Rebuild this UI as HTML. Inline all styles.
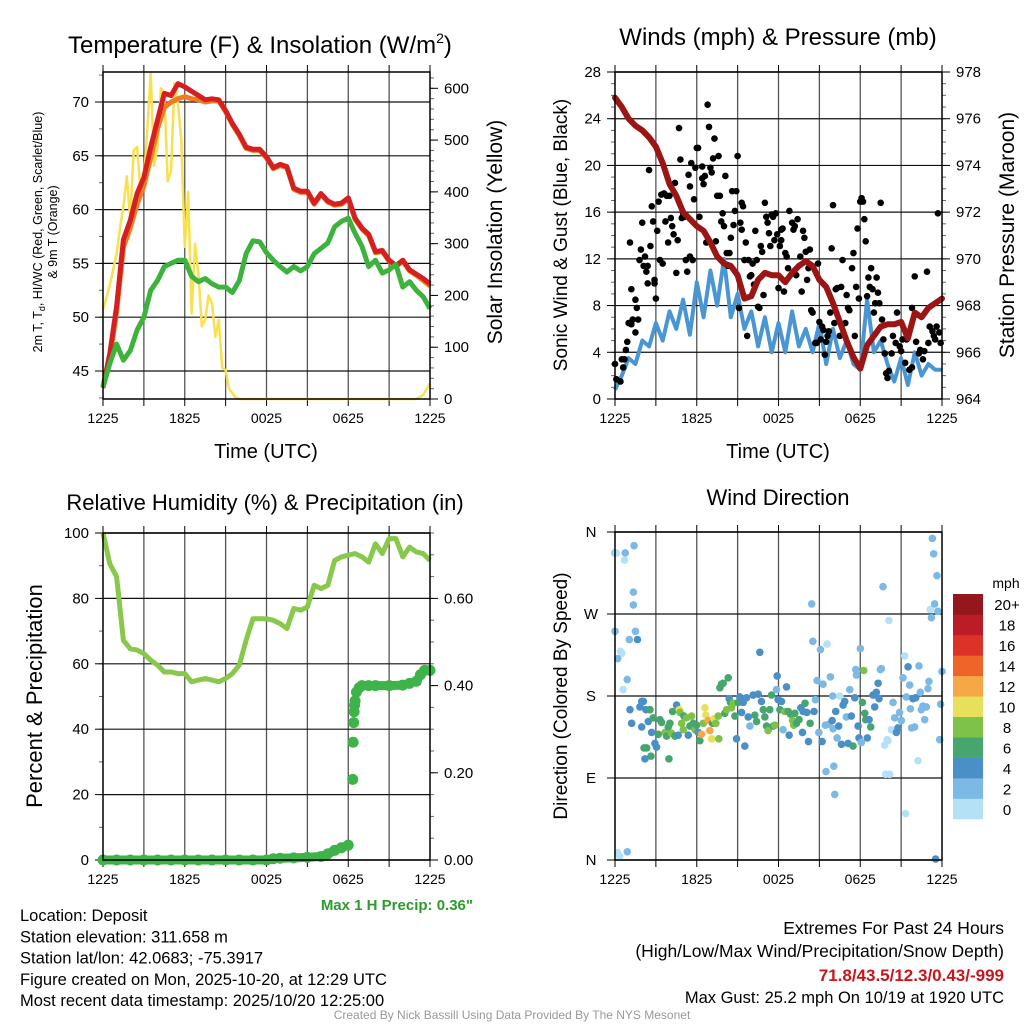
<!DOCTYPE html>
<html><head><meta charset="utf-8"><style>
html,body{margin:0;padding:0;background:#fff;}
svg{display:block;font-family:"Liberation Sans",sans-serif;}
.nar{font-family:"Liberation Sans Narrow","Liberation Sans",sans-serif;}
</style></head><body>
<svg id="root" width="1024" height="1024" viewBox="0 0 1024 1024" xmlns="http://www.w3.org/2000/svg"></svg>
<script>
// ---------- DATA ----------
const timeLabels = ["1225","1825","0025","0625","1225"];
const halfHours = [0,0.5,1,1.5,2,2.5,3,3.5,4,4.5,5,5.5,6,6.5,7,7.5,8,8.5,9,9.5,10,10.5,11,11.5,12,12.5,13,13.5,14,14.5,15,15.5,16,16.5,17,17.5,18,18.5,19,19.5,20,20.5,21,21.5,22,22.5,23,23.5,24];
const tempF = [43.5,46.6,51,57.2,59,61.5,63,65.8,68.3,70.8,70.6,71.7,71.4,71,70.6,70.2,70.3,70.2,69.2,68,67,65.8,65.6,65.6,64.9,63.9,64.2,64,62,61.7,61.7,60.6,61.5,60.8,60.5,60.6,61.1,59.2,58.3,57.7,56.1,56.2,55.3,54.8,55.3,54.4,54,53.6,53.1];
const temp9mF = [43.4,46.2,50.5,56.5,58.3,60.5,62.2,64.8,67.5,69.5,70,70.3,70.5,70.3,70.2,70,70.1,70.1,69.1,67.9,66.9,65.7,65.5,65.5,64.8,63.8,64.1,63.9,61.9,61.6,61.6,60.5,61.4,60.7,60.4,60.5,61,59.1,58.2,57.6,56,56.1,55.2,54.7,55.2,54.3,53.9,53.4,52.9];
const dewF = [43.5,45.7,47.5,46,46.9,48.8,50,52.5,53.4,54.7,55,55.3,55.3,53.8,53.3,53.6,53.1,52.8,52.8,52.3,53.4,55.9,57.1,57,56,55.3,54.7,54.2,54.7,54.3,54.7,55.9,56.4,56.9,58.4,58.9,59.2,57.8,56.6,54.7,55.3,54.1,54.4,54.9,52.8,53.3,52.5,51.9,50.8];
const solarH = [0,0.25,0.5,0.75,1,1.25,1.5,1.75,2,2.25,2.5,2.75,3,3.25,3.5,3.75,4,4.25,4.5,4.75,5,5.25,5.5,5.75,6,6.25,6.5,6.75,7,7.25,7.5,7.75,8,8.25,8.5,8.75,9,9.25,9.5,9.75,10,23,23.5,24];
const solarW = [172,195,220,250,281,330,372,430,346,480,487,400,423,520,629,450,487,600,590,420,442,610,571,500,294,400,165,300,243,140,153,200,185,120,153,60,56,20,11,3,0,0,8,30];
const windMph = [0.8,2,3.5,3,5,4.5,6.5,5,7.5,6,8.5,5.5,10,7,11,8,12,7,9,6,7.5,4.5,7,4,6.5,4,7.5,4.5,6,4,6.5,3,6,3.5,5,3,2.5,8.5,4,5,3,1.5,3.5,1.2,4,2,3,2.5,2.5];
const pressMb = [976.9,976.5,976.0,975.7,975.5,975.2,974.8,974.1,973.2,972.7,972.0,971.7,971.4,971.2,970.7,970.1,969.8,969.7,969.3,968.3,968.4,969.1,969.4,969.3,969.3,969.0,969.4,969.7,969.9,969.7,969.1,968.8,968.1,967.3,966.5,965.8,965.3,966.3,966.7,967.1,967.2,967.2,967.3,966.6,967.7,967.5,967.9,968.1,968.3];
const gustH = [0,0.1,0.4,0.5,0.6,0.7,0.8,0.9,1.0,1.1,1.2,1.2,1.3,1.5,1.5,1.6,1.7,1.8,1.9,2.0,2.1,2.2,2.3,2.4,2.4,2.5,2.6,2.7,2.8,2.9,2.9,3.0,3.1,3.2,3.3,3.4,3.5,3.6,3.7,3.8,3.9,4.0,4.1,4.2,4.3,4.4,4.5,4.6,4.7,4.8,4.9,5.0,5.1,5.2,5.3,5.4,5.5,5.5,5.6,5.7,5.8,5.9,6.0,6.1,6.2,6.4,6.4,6.5,6.6,6.7,6.8,6.9,7.0,7.1,7.2,7.3,7.4,7.5,7.6,7.7,7.8,7.9,8.0,8.1,8.2,8.3,8.4,8.5,8.6,8.7,8.8,8.9,9.0,9.1,9.2,9.3,9.3,9.4,9.5,9.6,9.7,9.8,9.9,10.0,10.1,10.2,10.3,10.4,10.5,10.6,10.7,10.8,10.9,11.0,11.1,11.2,11.3,11.4,11.5,11.6,11.7,11.8,11.9,12.0,12.1,12.2,12.2,12.3,12.4,12.5,12.6,12.7,12.8,13.0,13.1,13.2,13.3,13.4,13.6,13.7,13.8,13.9,14.0,14.1,14.2,14.3,14.4,14.5,14.7,14.8,14.9,15.0,15.1,15.2,15.3,15.4,15.5,15.6,15.7,15.8,15.9,16.0,16.1,16.2,16.3,16.5,16.6,16.7,16.9,17.0,17.1,17.2,17.4,17.5,17.6,17.7,17.8,17.9,18.0,18.1,18.2,18.3,18.4,18.5,18.6,18.7,18.8,18.9,19.0,19.1,19.2,19.3,19.4,19.5,19.6,19.7,19.8,19.9,20.0,20.1,20.3,20.4,20.6,20.7,20.9,21.0,21.1,21.3,21.4,21.6,21.8,21.8,22.0,22.1,22.3,22.4,22.6,22.7,22.9,23.0,23.1,23.3,23.4,23.5,23.6,23.7,23.8,23.9];
const gustV = [3.0,1.7,1.5,3.4,2.7,3.4,4.2,4.9,6.5,13.4,9.4,6.4,6.8,5.7,8.5,7.8,6.8,11.9,12.8,15.1,11.4,12.2,10.9,11.4,9.9,19.6,13.1,16.5,15.2,10.2,9.9,8.6,14.4,16.9,11.9,17.5,11.6,17.6,15.2,17.4,13.4,17.4,15.5,14.8,14.1,18.5,10.8,13.6,23.2,20.5,15.5,15.9,15.6,11.9,10.9,19.2,18.2,12.2,20.2,11.9,17.1,19.8,21.5,21.5,15.6,19.9,18.9,18.4,19.1,13.4,25.2,23.3,19.8,19.4,20.6,22.3,13.5,17.4,20.8,17.4,15.2,15.9,14.8,19.1,12.5,11.4,12.5,13.8,17.8,14.9,16.1,17.8,20.8,7.8,15.1,14.5,16.8,16.5,11.9,13.4,5.4,11.9,10.5,10.6,11.6,9.8,14.4,11.9,7.9,7.8,13.1,12.6,8.9,16.8,15.6,15.1,14.2,13.1,15.8,15.6,13.6,15.9,14.1,9.5,13.1,14.5,13.6,14.6,9.2,12.5,12.2,11.2,16.1,15.1,14.5,14.8,10.6,15.4,12.2,9.2,14.4,13.8,12.6,10.2,11.2,12.8,7.6,7.4,4.8,4.8,11.6,6.6,5.1,6.2,5.9,3.8,4.9,5.4,5.8,7.4,12.9,16.6,6.5,9.4,9.5,5.4,9.6,11.9,6.5,8.9,7.8,7.6,11.2,12.5,5.4,9.6,14.6,8.6,16.9,17.2,16.9,15.4,13.5,8.8,10.4,9.6,11.2,9.4,7.4,8.2,10.4,9.1,8.2,16.8,6.8,5.1,3.9,2.2,1.8,2.4,3.9,5.4,4.8,7.4,4.5,4.1,5.1,3.1,5.1,2.5,7.8,2.7,10.5,4.9,3.9,4.2,3.4,4.1,10.9,4.8,6.2,5.8,5.4,5.1,6.2,15.9,5.7,4.8];
const rhPct = [100,90.6,86.6,67.2,64.6,64.2,63.1,61.1,59.6,57.5,57.5,57,57,54.5,55,55.5,55,54.5,55.5,57,59.6,67.2,73.8,73.8,73.8,73.3,72.3,70.8,76.9,76.4,77.4,84,83,84,91.6,92.7,93.2,93.7,92.7,91.1,96.7,93.7,98.3,98.3,92.7,95.7,94.2,93.7,91.6];
const precipH = [0,1,2,3,4,5,6,7,8,9,10,11,12,12.5,13,14,15,16,16.5,17,17.5,18,18.33,18.36,18.4,18.43,18.46,18.5,18.6,18.8,19,19.5,20,21,22,22.5,23,23.3,23.6,24];
const precipIn = [0,0,0,0,0,0,0,0,0,0,0,0,0,0.003,0.004,0.005,0.006,0.008,0.014,0.022,0.028,0.034,0.185,0.27,0.315,0.34,0.355,0.365,0.385,0.395,0.4,0.4,0.4,0.4,0.401,0.405,0.41,0.425,0.435,0.435];
const wdH = [0.0,0.1,0.75,0.7,1.4,1.35,1.35,0.0,1.5,1.05,1.65,0.4,0.5,0.2,0.9,0.6,0.2,0.35,0.9,1.10,1.22,1.83,1.96,1.96,2.08,2.27,2.44,2.57,2.69,2.81,2.93,3.05,2.13,2.32,2.64,2.20,3.18,3.30,3.42,3.67,3.79,3.91,3.96,4.03,4.15,4.23,4.40,4.52,4.64,4.72,4.77,4.89,5.01,5.06,5.25,5.38,5.50,5.62,5.74,5.87,5.99,6.11,6.23,6.35,6.48,6.60,6.67,6.84,6.96,7.09,7.16,7.26,7.40,7.58,7.62,7.70,7.82,7.94,8.06,8.19,8.31,8.38,8.48,8.55,8.68,8.80,8.92,9.04,9.16,9.29,9.41,9.53,9.65,9.78,9.90,10.14,10.26,10.39,10.51,10.63,10.75,10.88,11.00,11.12,11.24,11.36,11.49,11.61,11.73,11.85,11.90,11.97,12.10,12.22,12.34,12.46,12.59,12.71,12.78,12.88,13.03,13.12,13.20,13.32,13.51,13.64,13.76,13.81,13.95,14.08,14.20,14.32,14.44,14.52,14.61,14.71,14.83,14.96,15.08,15.20,15.27,15.44,15.49,15.57,15.69,15.81,15.94,15.98,16.01,16.06,16.13,16.20,16.30,16.42,16.50,16.62,16.74,16.86,16.98,17.11,17.23,17.35,17.47,17.60,17.67,17.72,17.84,17.91,18.01,18.08,18.16,18.26,18.33,18.40,18.52,18.65,18.77,18.94,19.06,19.18,19.31,19.38,19.48,19.55,19.67,19.79,19.87,19.97,20.04,20.11,20.16,20.28,20.41,20.53,20.65,20.77,20.89,21.02,21.14,21.26,21.33,21.38,21.51,21.63,21.68,21.77,21.87,21.99,22.07,22.24,22.31,22.41,22.48,22.60,22.73,22.85,22.97,23.04,23.14,23.22,23.29,23.39,23.46,23.53,23.63,23.70,23.83,23.90,24.0];
const wdDir = [337,337,337,329,345,294,280,251,251,242,242,229,227,221,198,187,8,4,9,165,150,168,174,146,174,165,152,165,140,156,128,124,123,123,114,111,138,154,151,140,136,146,111,150,139,163,136,170,137,165,162,150,143,158,156,137,147,158,150,143,148,140,131,138,150,167,159,153,142,133,150,155,150,158,133,189,193,194,161,165,200,177,173,167,172,158,133,173,179,162,173,125,178,157,147,181,159,152,182,228,174,165,157,147,142,165,181,147,148,187,202,176,165,174,143,163,190,163,137,160,153,148,161,150,154,167,140,163,172,162,130,150,281,240,163,176,197,140,231,130,193,148,97,237,149,201,153,180,144,103,72,163,134,147,180,127,170,174,157,128,187,158,125,178,209,203,147,134,232,129,173,208,161,154,134,154,146,181,168,184,194,177,209,210,300,126,94,132,131,263,94,143,173,156,140,145,162,153,200,224,51,179,212,192,166,145,177,146,178,109,213,184,165,169,154,168,188,196,275,266,353,336,281,1,312,273,132,171,207];
const wdSpd = [2,0,2,0,2,2,2,2,2,2,4,0,0,2,2,0,0,0,2,4,4,4,4,4,4,4,4,6,4,6,4,4,6,6,6,4,6,6,6,8,6,6,6,6,8,6,6,4,4,10,8,8,8,6,8,4,6,8,6,8,6,4,6,12,8,10,10,12,12,10,6,10,8,8,8,6,6,6,6,8,6,4,6,8,8,6,4,6,4,4,4,4,4,4,2,4,6,6,4,4,4,6,6,6,8,6,6,6,8,2,4,4,6,4,2,8,4,6,4,6,8,8,6,6,6,4,4,4,6,4,4,6,2,2,4,2,2,2,2,4,2,2,2,0,2,2,4,2,2,2,2,4,2,4,0,4,4,4,2,4,2,4,6,4,2,2,4,4,2,2,6,8,6,6,4,4,6,4,4,4,4,4,2,2,2,0,0,0,0,0,0,0,2,2,4,4,2,2,2,0,0,2,4,2,2,2,4,2,4,0,2,2,2,2,2,2,2,2,0,2,2,2,2,4,2,2,2,2,2];
const speedBinLabels = ["0","2","4","6","8","10","12","14","16","18","20+"];
const speedBinColors = ["#b5e1f7","#7cb9e4","#4a8fc6","#47a56e","#7ec24a","#e6e05a","#f6a847","#ef6428","#dc3328","#bc1c25","#94171b"];

// ---------- RENDER ----------
const NS = "http://www.w3.org/2000/svg";
const root = document.getElementById('root');
function mk(tag, attrs, parent){
  const el = document.createElementNS(NS, tag);
  for (const k in attrs) el.setAttribute(k, attrs[k]);
  (parent || root).appendChild(el);
  return el;
}
function txt(s, attrs, parent){
  const el = mk('text', attrs, parent);
  el.textContent = s;
  return el;
}
function linScale(d0, d1, r0, r1){ return v => r0 + (v - d0) / (d1 - d0) * (r1 - r0); }

function frame(p, name){
  const g = mk('g', {});
  
  
  const xs = linScale(0, 24, p.x0, p.x1);
  for (let h = 3; h < 24; h += 3){
    const l = mk('line', {x1:xs(h), x2:xs(h), y1:p.y0, y2:p.y1, stroke:'#555', 'stroke-width':1.3}, g);
    
    
  }
  for (let h = 0; h <= 24; h += 3){
    const t = mk('line', {x1:xs(h), x2:xs(h), y1:p.y1, y2:p.y1+7, stroke:'#000', 'stroke-width':1}, g);
    
    
    const t2 = mk('line', {x1:xs(h), x2:xs(h), y1:p.y0, y2:p.y0-7, stroke:'#000', 'stroke-width':1}, g);
    
    
  }
  timeLabels.forEach((lab, i) => {
    const t = txt(lab, {x:xs(i*6), y:p.y1+24, 'font-size':14, 'text-anchor':'middle', class:'nar'}, g);
    
    
  });
  return {g, xs};
}
function yAxis(g, p, scale, majors, minors, fmt, side, gridOn){
  const x = side === 'left' ? p.x0 : p.x1;
  const dir = side === 'left' ? -1 : 1;
  minors.forEach(v => {
    const t = mk('line', {x1:x, x2:x+dir*4, y1:scale(v), y2:scale(v), stroke:'#666', 'stroke-width':1}, g);
    
    
  });
  majors.forEach(v => {
    const y = scale(v);
    if (gridOn){
      const gl = mk('line', {x1:p.x0, x2:p.x1, y1:y, y2:y, stroke:'#111', 'stroke-width':1.2}, g);
      
      
    }
    const t = mk('line', {x1:x, x2:x+dir*8, y1:y, y2:y, stroke:'#000', 'stroke-width':1}, g);
    
    
    const l = txt(fmt(v), {x:x+dir*14, y:y+5, 'font-size':15, 'text-anchor': side==='left'?'end':'start', class:'nar'}, g);
    
    
  });
}
function border(g, p){
  const b = mk('rect', {x:p.x0, y:p.y0, width:p.x1-p.x0, height:p.y1-p.y0, fill:'none', stroke:'#000', 'stroke-width':1.5}, g);
  
  
}
function pathFrom(hs, vs, xs, ys){
  return hs.map((h,i) => (i?'L':'M') + xs(h).toFixed(1) + ',' + ys(vs[i]).toFixed(1)).join(' ');
}
function rot(s, x, y, size, g, name){
  const t = txt(s, {x:x, y:y, 'font-size':size, 'text-anchor':'middle', transform:'rotate(-90 '+x+' '+y+')'}, g);
  
  
  return t;
}
function range(a,b,s){ const r=[]; for(let v=a; v<=b+1e-9; v+=s) r.push(+v.toFixed(4)); return r; }

// ---- Panel 1 ----
{
  const p = {x0:103, x1:430, y0:72, y1:399};
  const {g, xs} = frame(p, 'temperature-panel');
  const yT = linScale(45, 70, 371, 102);
  const yS = linScale(0, 600, 399, 88.3);
  yAxis(g, p, yT, [45,50,55,60,65,70], range(42.5,72.5,2.5), v=>String(v), 'left', true);
  yAxis(g, p, yS, [0,100,200,300,400,500,600], range(0,620,20), v=>String(v), 'right', false);
  const sol = mk('path', {d:pathFrom(solarH, solarW, xs, yS), fill:'none', stroke:'#f8e050', 'stroke-width':2.5, 'stroke-linejoin':'round'}, g);
  
  
  const o = mk('path', {d:pathFrom(halfHours, temp9mF, xs, yT), fill:'none', stroke:'#f07b20', 'stroke-width':5, 'stroke-linejoin':'round'}, g);
  
  
  const r = mk('path', {d:pathFrom(halfHours, tempF, xs, yT), fill:'none', stroke:'#d42020', 'stroke-width':5, 'stroke-linejoin':'round'}, g);
  
  
  const d = mk('path', {d:pathFrom(halfHours, dewF, xs, yT), fill:'none', stroke:'#3db33d', 'stroke-width':5, 'stroke-linejoin':'round'}, g);
  
  
  border(g, p);
  const t = txt('Temperature (F) & Insolation (W/m', {x:68, y:53, 'font-size':24}, g);
  const sup = mk('tspan', {dy:-10, 'font-size':14}, t); sup.textContent = '2';
  const cl = mk('tspan', {dy:10}, t); cl.textContent = ')';
  
  
  const xt = txt('Time (UTC)', {x:266, y:458, 'font-size':20, 'text-anchor':'middle'}, g);
  
  
  const yl = txt('', {x:42, y:232, 'font-size':12.5, 'text-anchor':'middle', transform:'rotate(-90 42 232)', class:'nar'}, g);
  yl.innerHTML = '2m T, T<tspan dy="3" font-size="9">d</tspan><tspan dy="-3">, HI/WC (Red, Green, Scarlet/Blue)</tspan>';
  
  
  rot('& 9m T (Orange)', 57, 232, 12.5, g, 'left-y-axis-title-line2').setAttribute('class','nar');
  rot('Solar Insolation (Yellow)', 502, 232, 21, g, 'right-y-axis-title');
}

// ---- Panel 2 ----
{
  const p = {x0:615, x1:942, y0:72, y1:399};
  const {g, xs} = frame(p, 'winds-panel');
  const yW = linScale(0, 28, 399, 72);
  const yP = linScale(964, 978, 399, 72);
  yAxis(g, p, yW, [0,4,8,12,16,20,24,28], range(0,28,1), v=>String(v), 'left', true);
  yAxis(g, p, yP, [964,966,968,970,972,974,976,978], range(964,978,0.5), v=>String(v), 'right', false);
  const b = mk('path', {d:pathFrom(halfHours, windMph, xs, yW), fill:'none', stroke:'#4a96d2', 'stroke-width':4, 'stroke-linejoin':'round'}, g);
  
  
  gustH.forEach((h,i) => {
    const c = mk('circle', {cx:xs(h), cy:yW(gustV[i]), r:3.3, fill:'#000'}, g);
    
    
  });
  const m = mk('path', {d:pathFrom(halfHours, pressMb, xs, yP), fill:'none', stroke:'#9b1515', 'stroke-width':6, 'stroke-linejoin':'round', 'stroke-linecap':'round'}, g);
  
  
  border(g, p);
  const t = txt('Winds (mph) & Pressure (mb)', {x:778, y:45, 'font-size':24, 'text-anchor':'middle'}, g);
  
  
  const xt = txt('Time (UTC)', {x:778, y:458, 'font-size':20, 'text-anchor':'middle'}, g);
  
  
  rot('Sonic Wind & Gust (Blue, Black)', 567, 235, 19, g, 'left-y-axis-title');
  rot('Station Pressure (Maroon)', 1014, 235, 21, g, 'right-y-axis-title');
}

// ---- Panel 3 ----
{
  const p = {x0:103, x1:430, y0:533, y1:860};
  const {g, xs} = frame(p, 'humidity-panel');
  const yR = linScale(0, 100, 860, 533);
  const yPr = linScale(0, 0.75, 860, 533);
  yAxis(g, p, yR, [0,20,40,60,80,100], range(0,100,10), v=>String(v), 'left', true);
  yAxis(g, p, yPr, [0,0.2,0.4,0.6], range(0,0.75,0.05), v=>v.toFixed(2), 'right', false);
  const rh = mk('path', {d:pathFrom(halfHours, rhPct, xs, yR), fill:'none', stroke:'#88c84c', 'stroke-width':5, 'stroke-linejoin':'round'}, g);
  
  
  for (let i = 1; i < precipH.length; i++){
    if (Math.abs(precipIn[i]-precipIn[i-1]) < 0.02){
      const s = mk('line', {x1:xs(precipH[i-1]), y1:yPr(precipIn[i-1]), x2:xs(precipH[i]), y2:yPr(precipIn[i]), stroke:'#3db34a', 'stroke-width':9, 'stroke-linecap':'round'}, g);
      
      
    }
  }
  precipH.forEach((h,i) => {
    const c = mk('circle', {cx:xs(h), cy:yPr(precipIn[i]), r:5.5, fill:'#3db34a'}, g);
    
    
  });
  border(g, p);
  const t = txt('Relative Humidity (%) & Precipitation (in)', {x:265, y:510, 'font-size':22, 'text-anchor':'middle'}, g);
  
  
  rot('Percent & Precipitation', 42, 696, 22, g, 'left-y-axis-title');
  const mp = txt('Max 1 H Precip: 0.36"', {x:473, y:910, 'font-size':15, 'font-weight':'bold', fill:'#2e9a2e', 'text-anchor':'end', class:'nar'}, g);
  
  
}

// ---- Panel 4 ----
{
  const p = {x0:615, x1:942, y0:532, y1:860};
  const {g, xs} = frame(p, 'wind-direction-panel');
  const yD = linScale(0, 360, 860, 532);
  const dirLabels = ['N','E','S','W','N'];
  [0,90,180,270,360].forEach((v,i) => {
    const gl = mk('line', {x1:p.x0, x2:p.x1, y1:yD(v), y2:yD(v), stroke:'#111', 'stroke-width':1.2}, g);
    
    
    const tk = mk('line', {x1:p.x0-8, x2:p.x0, y1:yD(v), y2:yD(v), stroke:'#000'}, g);
    
    
    const l = txt(dirLabels[i], {x:p.x0-24, y:yD(v)+5, 'font-size':15, 'text-anchor':'middle'}, g);
    
    
  });
  wdH.forEach((h,i) => {
    const bin = Math.min(10, Math.max(0, Math.round(wdSpd[i]/2)));
    const c = mk('circle', {cx:xs(h), cy:yD(wdDir[i]), r:3.8, fill:speedBinColors[bin]}, g);
    
    
  });
  border(g, p);
  const t = txt('Wind Direction', {x:778, y:505, 'font-size':22, 'text-anchor':'middle'}, g);
  
  
  rot('Direction (Colored By Speed)', 567, 696, 19, g, 'left-y-axis-title');
  const cb = mk('g', {}, g);
  
  
  const bh = 225/11;
  speedBinLabels.forEach((lab, i) => {
    const y = 819 - (i+1)*bh;
    const r = mk('rect', {x:953, y:y, width:30, height:bh+0.3, fill:speedBinColors[i]}, cb);
    
    
    const l = txt(lab, {x:1007, y:y+bh/2+6, 'font-size':15, 'text-anchor':'middle'}, cb);
    
    
  });
  const u = txt('mph', {x:1006, y:588, 'font-size':14, 'text-anchor':'middle'}, cb);
  
  
}

// ---- Footer ----
{
  const g = mk('g', {class:'nar'});
  
  
  const left = ['Location: Deposit','Station elevation: 311.658 m','Station lat/lon: 42.0683; -75.3917','Figure created on Mon, 2025-10-20, at 12:29 UTC','Most recent data timestamp: 2025/10/20 12:25:00'];
  left.forEach((s,i) => {
    const t = txt(s, {x:20, y:921+i*21.3, 'font-size':16.5}, g);
    
    
  });
  const r1 = txt('Extremes For Past 24 Hours', {x:1004, y:934, 'font-size':17.5, 'text-anchor':'end'}, g);
  
  
  const r2 = txt('(High/Low/Max Wind/Precipitation/Snow Depth)', {x:1004, y:957, 'font-size':17.5, 'text-anchor':'end'}, g);
  
  
  const r3 = txt('71.8/43.5/12.3/0.43/-999', {x:1004, y:981, 'font-size':17, 'font-weight':'bold', fill:'#c8161d', 'text-anchor':'end'}, g);
  
  
  const r4 = txt('Max Gust: 25.2 mph On 10/19 at 1920 UTC', {x:1004, y:1003, 'font-size':16.5, 'text-anchor':'end'}, g);
  
  
  const c = txt('Created By Nick Bassill Using Data Provided By The NYS Mesonet', {x:512, y:1019, 'font-size':12, fill:'#999', 'text-anchor':'middle'}, g);
  
  
}
</script>
</body></html>
